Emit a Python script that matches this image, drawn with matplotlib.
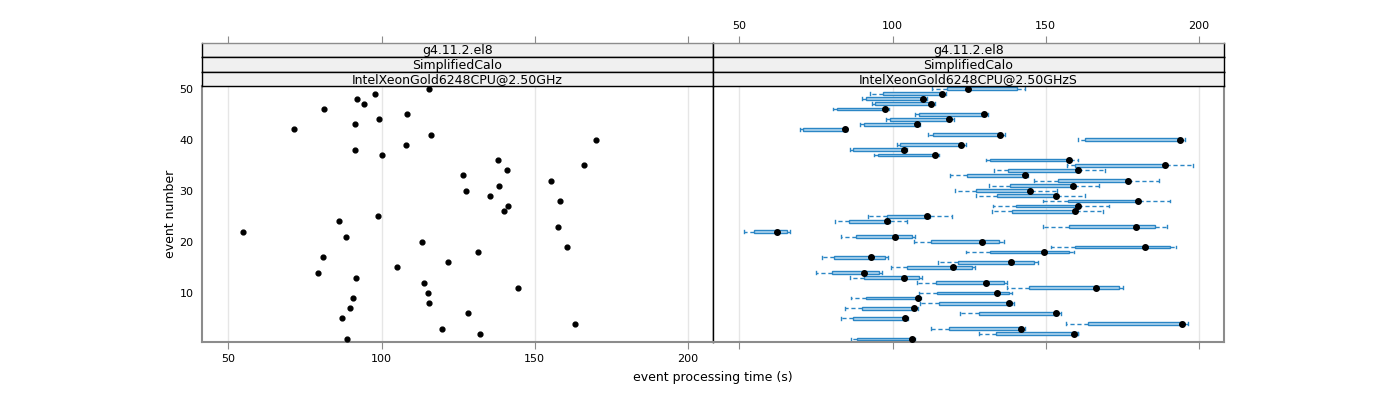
import numpy as np
import matplotlib
matplotlib.use("Agg")
import matplotlib.pyplot as plt

# event numbers 1..50
events = list(range(1, 51))

# left panel: single measurement per event (IntelXeonGold6248CPU@2.50GHz)
times_left = [88.7, 132.2, 119.6, 163.0, 87.0, 128.1, 89.6, 115.4, 90.6, 115.1,
              144.7, 113.8, 91.6, 79.4, 105.0, 121.6, 80.8, 131.4, 160.7, 113.1,
              88.3, 54.7, 157.5, 86.0, 98.8, 139.9, 141.2, 158.1, 135.3, 127.5,
              138.5, 155.2, 126.5, 140.8, 166.0, 137.9, 100.1, 91.3, 107.9, 169.9,
              116.0, 71.4, 91.3, 99.1, 108.2, 81.1, 94.2, 91.9, 97.8, 115.4]

# right panel: box stats per event (IntelXeonGold6248CPU@2.50GHzS)
w_lo = [86.6, 128.2, 112.4, 156.6, 83.1, 122.1, 84.4, 109.1, 86.5, 108.6,
        137.5, 108.0, 86.1, 75.0, 99.6, 114.8, 77.1, 124.0, 151.7, 107.0,
        83.3, 51.6, 149.1, 81.2, 92.0, 132.5, 132.8, 149.1, 127.1, 120.3,
        131.5, 146.1, 118.8, 133.1, 157.0, 130.5, 94.1, 86.0, 101.3, 160.4,
        111.7, 69.8, 89.3, 98.0, 107.2, 80.7, 93.4, 90.0, 92.6, 113.0]
q1 = [88.4, 133.7, 118.4, 163.8, 87.1, 128.2, 90.1, 115.2, 91.4, 114.5,
      144.7, 114.2, 90.7, 80.3, 104.6, 121.4, 80.9, 131.8, 159.7, 112.7,
      88.2, 54.8, 157.5, 85.8, 98.2, 139.0, 140.3, 157.2, 134.2, 127.1,
      138.2, 154.1, 124.3, 137.8, 159.7, 131.9, 95.3, 87.1, 102.6, 162.8,
      113.2, 70.8, 90.6, 99.3, 108.6, 81.9, 94.3, 91.3, 96.9, 117.8]
med = [106.3, 159.4, 141.8, 194.6, 104.0, 153.3, 107.0, 138.0, 108.3, 134.0,
       166.4, 130.5, 103.8, 90.7, 119.9, 138.6, 92.9, 149.6, 182.5, 129.2,
       100.9, 62.3, 179.5, 98.1, 111.4, 159.7, 160.5, 180.1, 153.5, 145.0,
       158.9, 176.8, 143.1, 160.4, 189.1, 157.6, 114.0, 103.8, 122.3, 193.8,
       135.2, 84.4, 107.9, 118.3, 129.7, 97.6, 112.7, 109.8, 116.0, 124.5]
q3 = [106.9, 160.5, 142.1, 195.3, 104.5, 154.0, 107.8, 139.0, 109.0, 138.0,
      174.0, 136.4, 108.6, 95.6, 125.8, 146.3, 97.5, 157.6, 190.6, 134.7,
      106.2, 65.6, 185.8, 99.1, 112.1, 159.9, 160.7, 180.3, 153.6, 145.1,
      159.1, 177.0, 143.4, 160.7, 189.3, 158.0, 114.5, 104.3, 122.8, 194.0,
      135.6, 85.0, 108.3, 118.7, 130.1, 98.0, 113.2, 110.5, 116.5, 140.6]
w_hi = [107.2, 160.7, 143.1, 196.6, 105.1, 154.9, 108.3, 139.5, 109.2, 138.9,
        175.3, 137.5, 109.6, 96.5, 126.9, 147.6, 98.5, 159.2, 192.4, 136.3,
        107.3, 66.5, 189.5, 104.7, 119.3, 168.7, 170.6, 190.7, 162.7, 153.8,
        167.3, 186.9, 144.3, 169.5, 198.0, 160.5, 115.2, 104.7, 123.9, 195.5,
        136.6, 85.3, 108.9, 120.1, 131.1, 98.9, 114.0, 111.3, 117.6, 143.1]

strip_labels = ["g4.11.2.el8", "SimplifiedCalo"]
cpu_left = "IntelXeonGold6248CPU@2.50GHz"
cpu_right = "IntelXeonGold6248CPU@2.50GHzS"

xticks = [50, 100, 150, 200]
yticks = [10, 20, 30, 40, 50]
XLIM = (41.4, 208.2)
YLIM = (0.4, 50.5)

frame_col = "#8c8c8c"
box_edge = "#2b86c5"
box_fill = "#b3d7f0"

fig = plt.figure(figsize=(14, 4), dpi=100)

W, H = 1400.0, 400.0
x0, xm, x1 = 202 / W, 713 / W, 1224 / W
ybot, ytop = 1 - 342 / H, 1 - 86 / H
strip_h = (86 - 43) / 3 / H

ax_l = fig.add_axes([x0, ybot, xm - x0, ytop - ybot])
ax_r = fig.add_axes([xm, ybot, x1 - xm, ytop - ybot])

for ax in (ax_l, ax_r):
    ax.set_xlim(*XLIM)
    ax.set_ylim(*YLIM)
    ax.set_xticks(xticks)
    for xv in xticks:
        ax.axvline(xv, color="#e6e6e6", lw=1, zorder=0)
    for s in ax.spines.values():
        s.set_color(frame_col)
        s.set_linewidth(1.5)
    ax.tick_params(axis="both", direction="out", length=5, color=frame_col,
                   labelsize=8)

ax_l.spines["right"].set_color("black")
ax_l.spines["right"].set_linewidth(1)
ax_r.spines["left"].set_color("black")
ax_r.spines["left"].set_linewidth(1)

ax_l.set_yticks(yticks)
ax_l.tick_params(axis="y", length=0, pad=6)
ax_r.set_yticks([])
ax_r.tick_params(axis="x", labelbottom=False)

# left panel points
ax_l.scatter(times_left, events, s=12, color="black", zorder=3)

# right panel boxes
stats = []
for i in range(len(events)):
    stats.append({"whislo": w_lo[i], "q1": q1[i], "med": med[i],
                  "q3": q3[i], "whishi": w_hi[i], "fliers": []})
ax_r.bxp(stats, positions=events, widths=0.55, capwidths=0.55,
         orientation="horizontal", patch_artist=True, manage_ticks=False,
         boxprops=dict(facecolor=box_fill, edgecolor=box_edge, linewidth=1),
         whiskerprops=dict(color=box_edge, linestyle=(0, (3, 2)), linewidth=1),
         capprops=dict(color=box_edge, linewidth=1),
         medianprops=dict(linewidth=0))
ax_r.scatter(med, events, s=16, color="black", zorder=4)

# strips
for k, (left, cpu) in enumerate([(x0, cpu_left), (xm, cpu_right)]):
    labels = strip_labels + [cpu]
    for j, lab in enumerate(labels):
        sb = ytop + (2 - j) * strip_h
        sax = fig.add_axes([left, sb, xm - x0, strip_h])
        sax.set_facecolor("#f0f0f0")
        sax.set_xlim(*XLIM)
        sax.set_yticks([])
        sax.set_xticks([])
        for s in sax.spines.values():
            s.set_color("black")
            s.set_linewidth(1)
        sax.spines["top"].set_color(frame_col if j == 0 else "black")
        sax.text(0.5, 0.45, lab, transform=sax.transAxes, ha="center",
                 va="center", fontsize=9)
        if j == 0:
            sax.xaxis.set_ticks_position("top")
            sax.set_xticks(xticks)
            sax.tick_params(axis="x", direction="out", length=5,
                            color=frame_col, labelsize=8,
                            labeltop=(k == 1), labelbottom=False)

fig.text((x0 + x1) / 2, 1 - 378 / H, "event processing time (s)",
         ha="center", va="center", fontsize=9)
fig.text(170 / W, (ybot + ytop) / 2, "event number", rotation=90,
         ha="center", va="center", fontsize=9)

fig.savefig("out.png", dpi=100)
